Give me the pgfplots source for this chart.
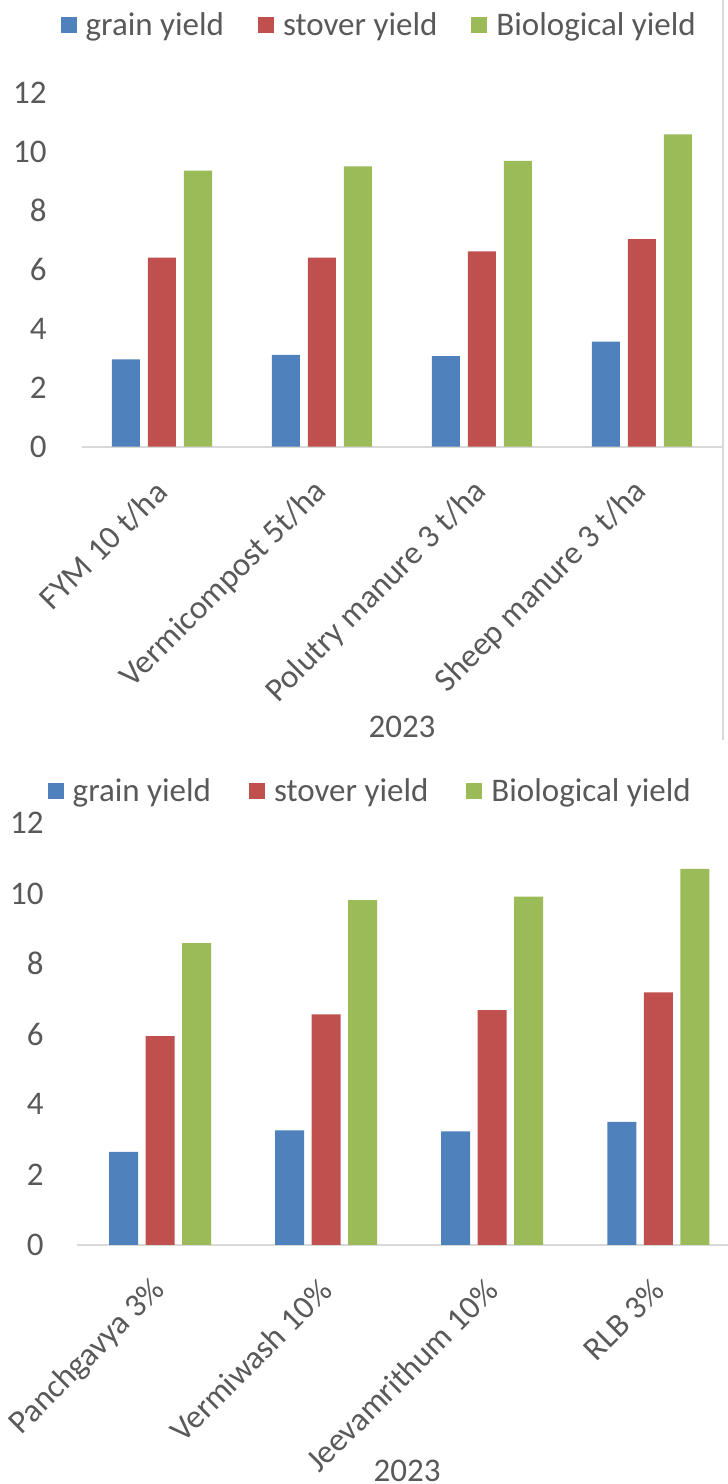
\documentclass[border=0pt]{standalone}
\usepackage{fontspec}
\setmainfont{Carlito}
\usepackage{pgfplots}
\usepackage{pgfplotstable}
\pgfplotsset{compat=1.18}

\definecolor{gy}{HTML}{4F81BD}
\definecolor{sy}{HTML}{C0504D}
\definecolor{by}{HTML}{9BBB59}
\definecolor{txt}{HTML}{595959}
\definecolor{axc}{HTML}{D9D9D9}

% yields, t/ha
\pgfplotstableread{
x grain stover bio
0 2.96 6.41 9.36
1 3.11 6.41 9.50
2 3.07 6.62 9.69
3 3.56 7.04 10.59
}\manures
\pgfplotstableread{
x grain stover bio
0 2.65 5.94 8.59
1 3.26 6.56 9.81
2 3.23 6.68 9.91
3 3.50 7.19 10.70
}\liquids

\pgfplotsset{
  sqlegend/.style={legend image code/.code={\fill[##1] (0pt,-4pt) rectangle (8pt,4pt);}},
  yieldbars/.style={
    ybar, scale only axis, clip=false,
    ymin=0, ymax=12, ytick={0,2,...,12},
    xmin=-0.5, xtick={0,1,2,3},
    axis x line*=bottom, axis y line*=left,
    y axis line style={draw=none},
    x axis line style={-, draw=axc, line width=1pt},
    major tick length=0pt,
    tick label style={font=\fontsize{16.5}{19}\selectfont, text=txt},
    /pgf/number format/assume math mode=true,
    yticklabel style={inner sep=0pt},
    xticklabel style={rotate=45, anchor=east, inner sep=0pt},
    xticklabel shift=20pt,
    label style={font=\fontsize{16.5}{19}\selectfont, text=txt},
    legend columns=3,
    legend style={draw=none, fill=none, font=\fontsize{16.5}{19}\selectfont,
      text=txt, anchor=center,
      /tikz/every odd column/.append style={column sep=2.5pt}},
    every axis plot post/.append style={sqlegend},
  }
}

\begin{document}
\begin{tikzpicture}
\path[use as bounding box] (0,0) rectangle (364pt,742pt);

% chart border fragment, right of the top chart
\draw[axc, line width=1pt] (361.5pt,372pt) -- (361.5pt,742pt);

\begin{axis}[yieldbars,
  at={(41pt,518.65pt)}, anchor=south west,
  width=320pt, height=177pt,
  xmax=3.5,
  bar width=14pt, ybar=4pt,
  yticklabel style={xshift=-17.5pt},
  xticklabels={FYM 10 t/ha, Vermicompost 5t/ha, Polutry manure 3 t/ha, Sheep manure 3 t/ha},
  xlabel={2023},
  xlabel style={at={(axis description cs:0.5,-0.791)}, anchor=center},
  legend style={at={(axis description cs:0.466,1.191)},
    /tikz/every even column/.append style={column sep=15pt}},
]
\addplot[fill=gy, draw=none] table[x=x, y=grain] {\manures};
\addplot[fill=sy, draw=none] table[x=x, y=stover] {\manures};
\addplot[fill=by, draw=none] table[x=x, y=bio] {\manures};
\legend{grain yield, stover yield, Biological yield}
\end{axis}

\begin{axis}[yieldbars,
  at={(38.5pt,119.5pt)}, anchor=south west,
  width=325.5pt, height=210.9pt,
  xmax=3.42,
  bar width=14.5pt, ybar=3.75pt,
  yticklabel style={xshift=-16.5pt},
  xticklabels={Panchgavya 3\%, Vermiwash 10\%, Jeevamrithum 10\%, RLB 3\%},
  xlabel={2023},
  xlabel style={at={(axis description cs:0.507,-0.536)}, anchor=center},
  legend style={at={(axis description cs:0.452,1.076)},
    /tikz/every even column/.append style={column sep=17pt}},
]
\addplot[fill=gy, draw=none] table[x=x, y=grain] {\liquids};
\addplot[fill=sy, draw=none] table[x=x, y=stover] {\liquids};
\addplot[fill=by, draw=none] table[x=x, y=bio] {\liquids};
\legend{grain yield, stover yield, Biological yield}
\end{axis}
\end{tikzpicture}
\end{document}
